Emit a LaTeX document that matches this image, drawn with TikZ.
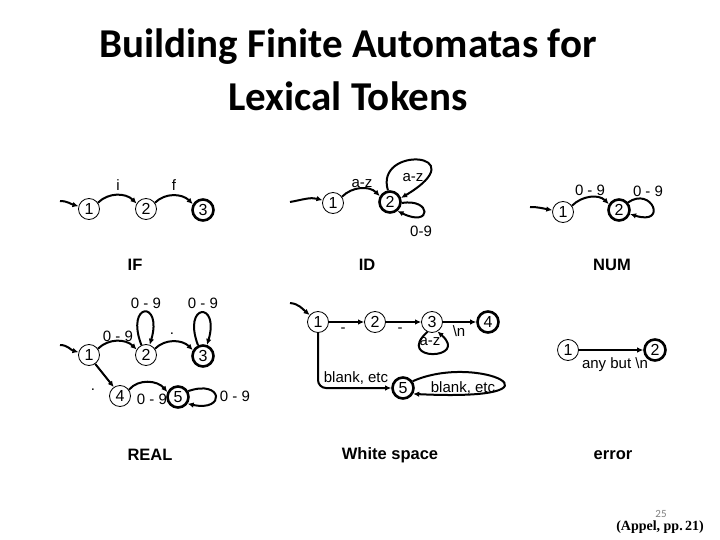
\documentclass[tikz,border=0pt]{standalone}
\usepackage{fontspec}
\setmainfont{Liberation Serif}
\newfontfamily\arialfont{Liberation Sans}
\newfontfamily\calibrifont{Carlito}
\usetikzlibrary{arrows.meta}

\begin{document}
\begin{tikzpicture}[
    x=1pt, y=1pt,
    font=\arialfont\fontsize{15}{17}\selectfont,
    state/.style={draw, circle, line width=0.8pt, minimum size=21pt, inner sep=0pt, font=\arialfont\fontsize{16}{18}\selectfont},
    accept/.style={state, line width=2.6pt},
    arrow/.style={draw=black, -{Latex[length=6pt,width=5.5pt]}, line width=2pt},
    lab/.style={inner sep=1pt},
    caption/.style={font=\arialfont\bfseries\fontsize{16.5}{18}\selectfont},
    title/.style={font=\calibrifont\bfseries\fontsize{41}{53}\selectfont, align=center}
]
\useasboundingbox (0,0) rectangle (720,-540);

\node[title] (title) at (348,-70)
{Building Finite Automatas for\\Lexical Tokens};

% IF
\node[state] (f1) at (89,-209) {1};
\node[state] (f2) at (146,-209) {2};
\node[accept] (f3) at (203,-210) {3};
\coordinate (fin) at (60,-201);
\draw[arrow] (fin) to[out=0,in=165] (f1);
\draw[arrow] (f1.35) to[out=45,in=135] (f2.150);
\draw[arrow] (f2.35) to[out=45,in=135] (f3.150);
\node[lab] (fi) at (118,-185) {i};
\node[lab] (ff) at (174,-185) {f};
\node[caption] (ifcap) at (135,-265) {IF};

% ID
\node[state] (d1) at (333,-203) {1};
\node[accept] (d2) at (390,-202) {2};
\coordinate (din) at (290,-202);
\draw[arrow] (din) to[out=10,in=165] (d1);
\draw[arrow] (d1.35) to[out=45,in=135] (d2.150);
\node[lab] (daz) at (362,-184) {a-z};
\draw[arrow] (d2.100) .. controls (374,-145) and (478,-152) .. (d2.20);
\node[lab] (azloop) at (413,-178) {a-z};
\draw[arrow] (d2.-5) .. controls (432,-198) and (432,-228) .. (d2.-50);
\node[lab] (digloop) at (421,-231) {0-9};
\node[caption] (idcap) at (367,-265) {ID};

% NUM
\node[state] (n1) at (563,-212) {1};
\node[accept] (n2) at (619,-210) {2};
\coordinate (nin) at (530,-207);
\draw[arrow] (nin) to[out=0,in=170] (n1);
\draw[arrow] (n1.35) to[out=45,in=135] (n2.150);
\node[lab] (ndig) at (590,-190) {0 - 9};
\draw[arrow] (n2.40) .. controls (652,-186) and (668,-226) .. (n2.-20);
\node[lab] (numloop) at (648,-191) {0 - 9};
\node[caption] (numcap) at (612,-265) {NUM};

% REAL
\node[state] (r1) at (89,-355) {1};
\node[state] (r2) at (146,-355) {2};
\node[accept] (r3) at (203,-356) {3};
\node[state] (r4) at (120,-396) {4};
\node[accept] (r5) at (178,-397) {5};
\coordinate (rin) at (60,-345);
\draw[arrow] (rin) to[out=0,in=165] (r1);
\draw[arrow] (r1.35) to[out=45,in=135] (r2.150);
\node[lab] (rdig) at (118,-336) {0 - 9};
\draw[arrow] (r2.35) to[out=45,in=135] (r3.150);
\node[lab] (rpt) at (172,-334) {.};
\draw[arrow] (r2.115) .. controls (125,-302) and (163,-300) .. (r2.70);
\node[lab] (rloopa) at (146,-303) {0 - 9};
\draw[arrow] (r3.115) .. controls (182,-303) and (220,-301) .. (r3.70);
\node[lab] (rloopb) at (203,-303) {0 - 9};
\draw[arrow] (r1.-55) -- (r4.125);
\node[lab] (rdot) at (93,-390) {.};
\draw[arrow] (r4.35) to[out=50,in=130] (r5.155);
\node[lab] (rdigb) at (152,-399) {0 - 9};
\draw[arrow] (r5.30) .. controls (223,-379) and (226,-412) .. (r5.-35);
\node[lab] (rloopc) at (235,-396) {0 - 9};
\node[caption] (realcap) at (150,-455) {REAL};

% White space
\node[state] (w1) at (318,-322) {1};
\node[state] (w2) at (375,-322) {2};
\node[state] (w3) at (432,-322) {3};
\node[accept] (w4) at (488,-322) {4};
\node[accept] (w5) at (403,-388) {5};
\coordinate (win) at (290,-303);
\draw[arrow] (win) to[out=-5,in=140] (w1);
\draw[arrow] (w1.east) -- (w2.west);
\node[lab] (wdasha) at (343,-330) {-};
\draw[arrow] (w2.east) -- (w3.west);
\node[lab] (wdashb) at (400,-330) {-};
\draw[arrow] (w3.east) -- (w4.west);
\node[lab] (wnl) at (459,-331) {\textbackslash n};
\draw[arrow] (w3.-115) .. controls (394,-362) and (470,-360) .. (w3.-60);
\node[lab] (wazloop) at (430,-342) {a-z};
\draw[arrow, rounded corners=8pt] (w1.south) |- (w5.west);
\node[lab] (wblanka) at (356,-378) {blank, etc};
\draw[arrow] (w5.35) .. controls (478,-352) and (580,-402) .. (w5.-30);
\node[lab] (wblankb) at (463,-388) {blank, etc};
\node[caption] (wscap) at (390,-455) {White space};

% error
\node[state] (e1) at (568,-350) {1};
\node[accept] (e2) at (655,-350) {2};
\draw[arrow] (e1.east) -- (e2.west);
\node[lab] (eany) at (615,-365) {any but \textbackslash n};
\node[caption] (errcap) at (613,-455) {error};

\node[font=\calibrifont\fontsize{11}{12}\selectfont, text=gray] (pgno) at (661,-514) {25};
\node[font=\rmfamily\bfseries\fontsize{14}{15}\selectfont] (cite) at (660,-527) {(Appel, pp.\,21)};
\end{tikzpicture}
\end{document}
